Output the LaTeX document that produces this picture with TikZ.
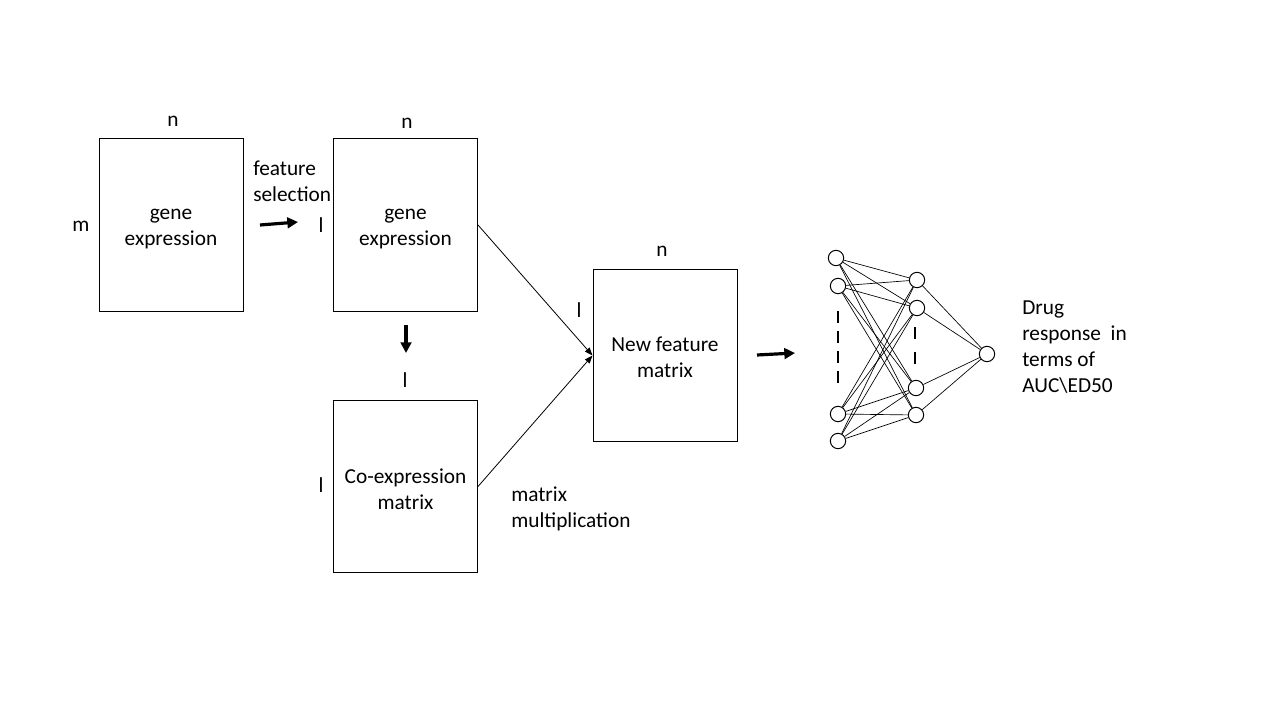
\documentclass[tikz,border=0pt]{standalone}
\usepackage{fontspec}
\setmainfont{Carlito}
\usetikzlibrary{arrows.meta}
\begin{document}
\begin{tikzpicture}[x=0.75pt,y=-0.75pt,
  txt/.style={font=\fontsize{16}{19.5}\selectfont,inner sep=0pt,align=center},
  ltxt/.style={font=\fontsize{16}{19.5}\selectfont,inner sep=0pt,align=left,anchor=west},
  mbox/.style={draw,line width=0.75pt,minimum width=108pt,minimum height=129pt,inner sep=0pt},
  bigarrow/.style={line width=2.4pt,-{Triangle[length=8pt,width=8pt]}},
  thinarrow/.style={line width=0.6pt,-{Triangle[length=6pt,width=4.5pt]}},
  neuron/.style={draw,circle,line width=0.75pt,minimum size=11.5pt,inner sep=0pt},
  link/.style={line width=0.5pt},
  dotline/.style={line width=2pt,dash pattern=on 9pt off 6pt}
]
\useasboundingbox (0,0) rectangle (1280,720);
% boxes
\node[mbox] (b1) at (171,225) {};
\node[mbox] (b2) at (405.5,225) {};
\node[mbox] (b3) at (405.5,486.5) {};
\node[mbox] (b4) at (665,355.5) {};
\node[txt] (t1) at ([yshift=-3pt]b1.center) {gene\\expression};
\node[txt] (t2) at ([yshift=-3pt]b2.center) {gene\\expression};
\node[txt] (t3) at ([yshift=-2pt]b3.center) {Co-expression\\matrix};
\node[txt] (t4) at ([yshift=-1.5pt]b4.center) {New feature\\matrix};
% dimension labels
\node[txt] (n1) at (173,121) {n};
\node[txt] (m1) at (81,226) {m};
\node[txt] (n2) at (407,123) {n};
\node[txt] (l2) at (321,225) {l};
\node[txt] (l3a) at (405,380) {l};
\node[txt] (l3b) at (321,485) {l};
\node[txt] (l4) at (579,310) {l};
\node[txt] (n4) at (662,251) {n};
% annotations
\node[ltxt] (fs) at (253,181) {feature\\selection};
\node[ltxt] (mm) at (511,509) {matrix\\multiplication};
\node[ltxt] (dr) at (1022,347) {Drug\\response\ \ in\\terms of\\AUC\textbackslash ED50};
% thick arrows
\coordinate (a1s) at (260,225); \coordinate (a1e) at (298,222);
\coordinate (a2s) at (406,325); \coordinate (a2e) at (406,353);
\coordinate (a3s) at (757,355); \coordinate (a3e) at (795,353);
\draw[bigarrow] (a1s) -- (a1e);
\draw[bigarrow] (a2s) -- (a2e);
\draw[bigarrow] (a3s) -- (a3e);
% thin arrows
\draw[thinarrow] (b2.east) -- (b4.west);
\draw[thinarrow] (b3.east) -- (b4.west);
% neural net
\node[neuron] (i1) at (836,258) {};
\node[neuron] (i2) at (838,286) {};
\node[neuron] (i3) at (838,414) {};
\node[neuron] (i4) at (838,441) {};
\node[neuron] (h1) at (917,280) {};
\node[neuron] (h2) at (917,308) {};
\node[neuron] (h3) at (916,388) {};
\node[neuron] (h4) at (916,415) {};
\node[neuron] (o) at (987,354) {};
\foreach \i in {i1,i2,i3,i4}{
  \foreach \h in {h1,h2,h3,h4}{
    \draw[link] (\i) -- (\h);
  }
}
\foreach \h in {h1,h2,h3,h4}{
  \draw[link] (\h) -- (o);
}
\coordinate (d1s) at (838,311); \coordinate (d1e) at (838,388);
\coordinate (d2s) at (915,327); \coordinate (d2e) at (915,365);
\draw[dotline] (d1s) -- (d1e);
\draw[dotline,dash pattern=on 9pt off 10pt] (d2s) -- (d2e);
\end{tikzpicture}
\end{document}
